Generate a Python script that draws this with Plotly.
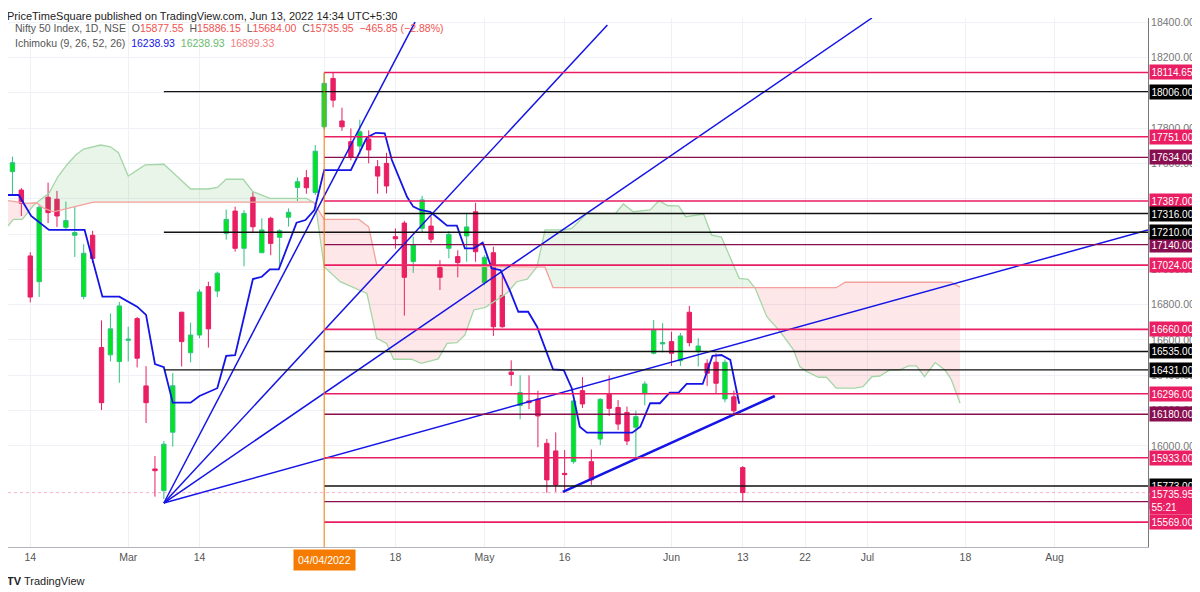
import numpy as np
import plotly.graph_objects as go

# ---------------- data ----------------
bar_index = list(range(-35, 48))
opens = [17553,17449,17076,16930,17408,17397,17238,17193,16846,17193,16557,16516,16478,16598,16721,16340,15870,15747,16078,16757,
         16528,16628,16902,16877,17204,17330,17119,17408,17094,17289,17181,17295,17464,17519,17435,
         17807,18081,17840,17723,17698,17738,17581,17600,17185,17262,17044,17232,17245,17010,17119,17072,17189,17326,
         16925,17094,16851,16418,16229,16255,16266,16015,15972,15845,15911,16313,15911,16039,16292,16218,16190,16106,16298,
         16525,16578,16591,16482,16757,16534,16468,16474,16266,16278,15877.55]
highs = [17638,17460,17097,17364,17491,17444,17384,17353,17142,17218,16711,16750,16816,16675,16730,16452,15943,16028,16413,16760,
         16698,16887,16930,16987,17338,17355,17335,17438,17289,17298,17227,17345,17520,17562,17703,
         18114,18115,17915,17798,17847,17787,17619,17660,17232,17275,17185,17416,17300,17052,17217,17108,17320,17377,
         17080,17128,16966,16485,16400,16400,16313,16040,16077,15977,16260,16390,15980,16270,16400,16260,16223,16200,16366,
         16713,16695,16647,16640,16793,16610,16491,16525,16490,16313,15886.15]
lows = [17421,17302,16813,16843,17262,17240,17221,17070,16830,17036,16204,16479,16358,16479,16445,16130,15713,15700,15996,16450,
        16474,16610,16557,16843,17168,17100,17017,17205,17094,17080,17024,17242,17387,17428,17421,
        17790,17917,17784,17617,17651,17600,17428,17430,17117,16738,16980,17206,17150,16883,17062,16955,17043,17043,
        16910,16623,16670,16340,16151,16208,15993,15735,15740,15735,15900,16215,15780,16005,16170,16090,16005,15920,16230,
        16519,16530,16453,16453,16564,16450,16340,16298,16247,16174,15684.00]
closes = [17604,17374,16843,17351,17321,17302,17276,17208,17091,17062,16245,16663,16793,16605,16497,16245,15860,16010,16341,16591,
          16628,16872,16663,16978,17283,17119,17317,17241,17223,17147,17219,17323,17496,17462,17669,
          18053,17958,17807,17634,17779,17676,17528,17472,17173,16955,17138,17393,17170,16955,17198,17038,17240,17100,
          17068,16675,16675,16405,16302,16245,16170,15808,15779,15838,16255,16238,15808,16264,16213,16124,16028,16166,16351,
          16657,16585,16525,16623,16585,16566,16412,16355,16474,16199,15735.95]

# Ichimoku conversion line (blue)
conv_x = [-35.5,-34.3,-32.9,-30.9,-26.9,-24.9,-23.0,-21.0,-20.0,-19.0,-18.0,-17.0,-15.0,-14.0,-12.0,-11.0,-10.0,-8.0,-7.0,-6.1,-5.1,
          -3.1,-2.1,-1.1,0,3.0,4.8,5.8,6.8,7.6,9.3,10.0,10.8,11.9,12.8,13.8,14.9,15.8,16.8,17.8,18.8,19.8,20.9,21.8,22.9,23.9,
          25.7,26.9,27.8,28.7,29.5,34.6,35.5,36.6,37.7,38.8,39.8,40.7,42.5,43.6,44.6,45.6,46.6]
conv_y = [17421,17421,17302,17223,17223,16845,16845,16789,16742,16464,16446,16245,16245,16283,16327,16510,16514,16945,16958,17000,17000,
          17264,17279,17336,17562,17562,17747,17773,17770,17619,17411,17355,17336,17326,17289,17247,17247,17119,17119,17151,17006,16996,16874,16760,16760,16675,
          16434,16430,16327,16109,16075,16075,16109,16242,16242,16302,16302,16351,16351,16510,16515,16487,16238.93]

# Leading span A (green)
spanA_x = [-35.5,-34.9,-33.9,-32.6,-31.9,-30.9,-29.9,-28.9,-27.9,-27.0,-25.1,-24.0,-23.1,-22.0,-20.1,-18.0,-16.9,-15.0,-13.0,-12.0,-11.0,-9.1,
           -8.0,-6.1,-2.0,-1.0,0,1.8,4.8,5.9,7.0,7.8,9.8,10.9,12.8,13.8,14.9,15.8,16.8,18.1,20.5,21.6,22.8,23.9,24.8,26.9,27.8,29.5,32.7,
           33.6,34.7,36.6,37.6,38.6,39.8,40.6,42.6,43.5,44.6,45.8,46.6,47.6,48.4,49.7,51.2,52.7,53.4,54.2,55.5,56.4,57.5,59.6,60.5,61.5,
           62.4,63.5,64.6,65.6,66.5,67.4,68.6,69.7,70.4,71.4]
spanA_y = [17245,17283,17283,17364,17392,17430,17524,17591,17647,17681,17704,17694,17660,17528,17591,17595,17544,17455,17455,17464,17510,17510,
           17440,17402,17402,17374,17015,16930,16864,16610,16581,16491,16491,16468,16493,16581,16585,16628,16770,16785,16864,16930,16944,17015,17223,17223,17232,17317,17317,
           17370,17326,17336,17389,17360,17359,17298,17313,17194,17183,17039,16949,16943,16893,16732,16647,16544,16450,16421,16389,16389,16327,16327,16336,16392,
           16396,16430,16430,16453,16453,16392,16472,16430,16378,16242]
# Leading span B (red)
spanB_x = [-35.5,-33.4,-32.3,-31.5,-30.4,-27.8,-25.9,-1.2,0,3.9,5.0,5.9,24.8,25.7,57.5,58.5,70.4,71.4]
spanB_y = [17389,17374,17377,17346,17326,17355,17380,17380,17283,17283,17241,17025,17012,16896,16896,16927,16927,16899.33]

# Horizontal levels
lvl_bright = [18114.65, 17751.00, 17387.00, 17024.00, 16660.00, 16296.00, 15933.00, 15569.00]
lvl_maroon = [17634.00, 17140.00, 16180.00, 15685.00]
lvl_black_short = [17316.00, 16535.00, 15773.00]
lvl_black_long = [18006.00, 17210.00, 16431.00]
level_start_short = 0
level_start_long = -18

# Fan from the March low
fan_origin = (-18, 15677)
fan_targets = [(10.2, 18400), (31.8, 18383), (61.5, 18423), (92.5, 17223)]
support_line = [(26.8, 15740), (50.6, 16283)]

last_price = 15735.95

x_tickvals = [-33, -22, -14, 0, 8, 18, 27, 39, 47, 54, 61, 72, 82]
x_ticktext = ["14", "Mar", "14", "", "18", "May", "16", "Jun", "13", "22", "Jul", "18", "Aug"]
y_ticks = [16000, 16200, 16400, 16600, 16800, 17000, 17200, 17400, 17600, 17800, 18000, 18200, 18400]

# ---------------- styles ----------------
PINK = "#e91e63"
MAROON = "#880e4f"
BLUE = "#1414e6"
FONT = "Liberation Sans"
X_RANGE = [-35.5, 92.5]
Y_RANGE = [15428, 18423]

fig = go.Figure()

# cloud fill
grid = np.linspace(spanA_x[0], spanA_x[-1], 1500)
a = np.interp(grid, spanA_x, spanA_y)
b = np.interp(grid, spanB_x, spanB_y)
sign = a >= b
start = 0
for k in range(1, len(grid) + 1):
    if k == len(grid) or sign[k] != sign[start]:
        end = min(k + 1, len(grid))
        gx = grid[start:end]
        xs = list(gx) + list(gx[::-1])
        ys = list(a[start:end]) + list(b[start:end][::-1])
        col = "rgba(76,175,80,0.13)" if sign[start] else "rgba(242,54,69,0.12)"
        fig.add_trace(go.Scatter(x=xs, y=ys, fill="toself", fillcolor=col, mode="lines",
                                 line=dict(width=0), hoverinfo="skip", showlegend=False))
        start = k
fig.add_trace(go.Scatter(x=spanA_x, y=spanA_y, mode="lines", line=dict(color="#a5d6a7", width=1.3),
                         hoverinfo="skip", showlegend=False))
fig.add_trace(go.Scatter(x=spanB_x, y=spanB_y, mode="lines", line=dict(color="#f4a09c", width=1.3),
                         hoverinfo="skip", showlegend=False))

# horizontal levels
def hline(y, x0, color, width):
    fig.add_shape(type="line", xref="x", yref="y", x0=x0, x1=X_RANGE[1], y0=y, y1=y,
                  line=dict(color=color, width=width), layer="above")

for v in lvl_bright:
    hline(v, level_start_short, PINK, 1.6)
for v in lvl_maroon:
    hline(v, level_start_short, MAROON, 1.4)
for v in lvl_black_short:
    hline(v, level_start_short, "#111111", 1.4)
for v in lvl_black_long:
    hline(v, level_start_long, "#111111", 1.4)

# last price dotted
fig.add_shape(type="line", xref="x", yref="y", x0=X_RANGE[0], x1=X_RANGE[1], y0=last_price, y1=last_price,
              line=dict(color="rgba(233,30,99,0.35)", width=1, dash="dot"))
# orange crosshair
fig.add_shape(type="line", xref="x", yref="y", x0=0, x1=0, y0=Y_RANGE[0], y1=18114.65,
              line=dict(color="#f57c00", width=1))

# fan + support
for tx, ty in fan_targets:
    fig.add_trace(go.Scatter(x=[fan_origin[0], tx], y=[fan_origin[1], ty], mode="lines",
                             line=dict(color=BLUE, width=1.5), hoverinfo="skip", showlegend=False))
fig.add_trace(go.Scatter(x=[p[0] for p in support_line], y=[p[1] for p in support_line], mode="lines",
                         line=dict(color=BLUE, width=2.6), hoverinfo="skip", showlegend=False))

# conversion line
fig.add_trace(go.Scatter(x=conv_x, y=conv_y, mode="lines", line=dict(color=BLUE, width=1.8),
                         hoverinfo="skip", showlegend=False))

# candles
fig.add_trace(go.Candlestick(x=bar_index, open=opens, high=highs, low=lows, close=closes,
                             increasing=dict(line=dict(color="#2ec27e", width=1), fillcolor="#00e61e"),
                             decreasing=dict(line=dict(color="#e91e63", width=1), fillcolor="#e91e63"),
                             whiskerwidth=0, showlegend=False, hoverinfo="skip"))

# right axis price labels
LBL = dict(color="white", size=10, family=FONT)
def plabel(v, color):
    fig.add_annotation(xref="paper", yref="y", x=1, y=v, xanchor="left", yanchor="middle", xshift=1,
                       text=f"{v:.2f}", showarrow=False, bgcolor=color, font=LBL, borderpad=1.5)

for v in lvl_bright:
    plabel(v, PINK)
for v in lvl_maroon:
    plabel(v, MAROON)
for v in lvl_black_short + lvl_black_long:
    plabel(v, "#000000")
fig.add_annotation(xref="paper", yref="y", x=1, y=last_price, xanchor="left", yanchor="top", xshift=1, yshift=7,
                   text=f"{last_price:.2f}<br>55:21", showarrow=False, bgcolor=PINK, align="left",
                   font=LBL, borderpad=1.5)

# header texts
fig.add_annotation(xref="paper", yref="paper", x=0, y=1, xanchor="left", yanchor="top", xshift=-3, yshift=10,
                   text="PriceTimeSquare published on TradingView.com, Jun 13, 2022 14:34 UTC+5:30",
                   showarrow=False, font=dict(size=11, color="#222", family=FONT))
red = "#ef5350"
fig.add_annotation(xref="paper", yref="paper", x=0, y=1, xanchor="left", yanchor="top", xshift=5, yshift=-2,
                   text=("<span style='color:#555'>Nifty 50 Index, 1D, NSE  O</span><span style='color:%s'>15877.55</span>"
                         "<span style='color:#555'>  H</span><span style='color:%s'>15886.15</span>"
                         "<span style='color:#555'>  L</span><span style='color:%s'>15684.00</span>"
                         "<span style='color:#555'>  C</span><span style='color:%s'>15735.95  −465.85 (−2.88%%)</span>") % (red, red, red, red),
                   showarrow=False, font=dict(size=10.5, family=FONT), align="left")
fig.add_annotation(xref="paper", yref="paper", x=0, y=1, xanchor="left", yanchor="top", xshift=5, yshift=-17,
                   text=("<span style='color:#555'>Ichimoku (9, 26, 52, 26)  </span><span style='color:#1414e6'>16238.93</span>"
                         "<span style='color:#66bb6a'>  16238.93</span><span style='color:#f08080'>  16899.33</span>"),
                   showarrow=False, font=dict(size=10.5, family=FONT), align="left")
# orange date box
fig.add_annotation(xref="x", yref="paper", x=0, y=0, yanchor="top", yshift=-2,
                   text="04/04/2022", showarrow=False, bgcolor="#f57c00",
                   font=dict(color="white", size=10.5, family=FONT), borderpad=4)
# footer
fig.add_annotation(xref="paper", yref="paper", x=0, y=0, xanchor="left", yanchor="top", xshift=-3, yshift=-26,
                   text="<b>TV</b> TradingView", showarrow=False, font=dict(size=11, color="#222", family=FONT))

fig.update_layout(
    width=1192, height=584, margin=dict(l=0, r=52, t=10, b=45),
    paper_bgcolor="white", plot_bgcolor="white", showlegend=False,
    xaxis=dict(range=X_RANGE, tickvals=x_tickvals, ticktext=x_ticktext, showgrid=True, gridcolor="#eef2f7",
               zeroline=False, rangeslider=dict(visible=False), showline=True, linecolor="#b2b5be", mirror=False,
               tickfont=dict(size=10.5, color="#555", family=FONT), ticks=""),
    yaxis=dict(range=Y_RANGE, side="right", tickvals=y_ticks, ticktext=[f"{v:.2f}" for v in y_ticks],
               showgrid=True, gridcolor="#eef2f7", zeroline=False, showline=True, linecolor="#777",
               tickfont=dict(size=10.5, color="#777", family=FONT), ticks=""),
)
fig.write_html("out.html")
